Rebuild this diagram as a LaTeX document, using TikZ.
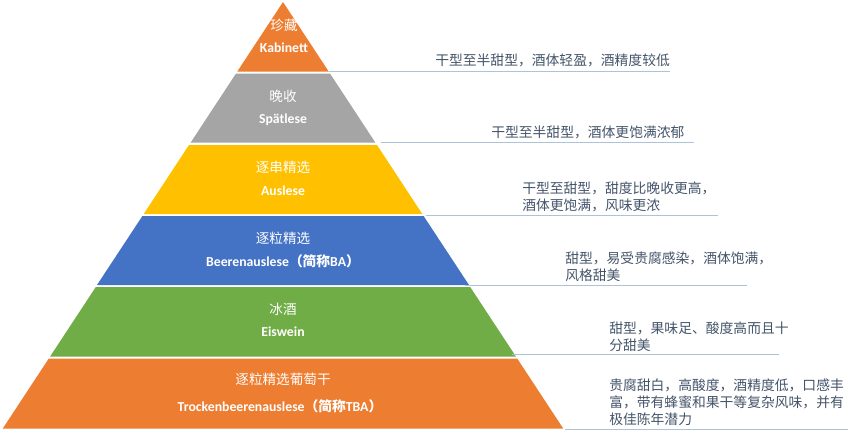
\documentclass[tikz,border=0pt]{standalone}
\usepackage{fontspec}
\setmainfont{Carlito}
\newfontfamily\cjk{Noto Sans CJK SC}
\usetikzlibrary{positioning}
\definecolor{wineorange}{HTML}{ED7D31}
\definecolor{winegrey}{HTML}{A5A5A5}
\definecolor{wineyellow}{HTML}{FFC000}
\definecolor{wineblue}{HTML}{4472C4}
\definecolor{winegreen}{HTML}{70AD47}
\definecolor{leadcol}{HTML}{ADC3D9}
\definecolor{notecol}{HTML}{44546A}
\tikzset{
  zh/.style={text=white, font=\cjk\fontsize{10.2}{12}\selectfont, inner sep=0pt},
  en/.style={text=white, font=\bfseries\fontsize{10.3}{12}\selectfont, inner sep=0pt},
  note/.style={text=notecol, font=\cjk\fontsize{10.35}{12.75}\selectfont, align=left, anchor=west, inner sep=0pt},
  lead/.style={draw=leadcol, line width=0.75pt},
}
\begin{document}
\begin{tikzpicture}[x=0.75pt,y=-0.75pt]
\useasboundingbox (0,0) rectangle (858,436);
% bands
\fill[wineorange] (283,2) -- (328.7,71.5) coordinate (c1) -- (237.3,71.5) -- cycle;
\fill[winegrey] (236,73.5) -- (330,73.5) -- (375.3,142.5) coordinate (c2) -- (190.7,142.5) -- cycle;
\fill[wineyellow] (189,145) -- (377,145) -- (422.3,214) coordinate (c3) -- (143.7,214) -- cycle;
\fill[wineblue] (142.4,216) -- (423.6,216) -- (469,285) coordinate (c4) -- (97,285) -- cycle;
\fill[winegreen] (95.8,287) -- (470.2,287) -- (515.9,356.5) coordinate (c5) -- (50.1,356.5) -- cycle;
\fill[wineorange] (48.8,358.5) -- (517.2,358.5) -- (563.2,428.5) coordinate (c6) -- (2.8,428.5) -- cycle;
% band labels
\node[zh] (z1) at (284,25) {珍藏};
\node[en] (e1) at (284,48) {Kabinett};
\node[zh] (z2) at (283,96.5) {晚收};
\node[en] (e2) at (283,120) {Spätlese};
\node[zh] (z3) at (283,167.5) {逐串精选};
\node[en] (e3) at (283,190.5) {Auslese};
\node[zh] (z4) at (283,238) {逐粒精选};
\node[en] (e4) at (283,261) {Beerenauslese{\cjk （简称}BA{\cjk ）}};
\node[zh] (z5) at (283,309) {冰酒};
\node[en] (e5) at (283,332) {Eiswein};
\node[zh] (z6) at (283,379) {逐粒精选葡萄干};
\node[en] (e6) at (280,406.5) {Trockenbeerenauslese{\cjk （简称}TBA{\cjk ）}};
% notes
\node[note] (n1) at (435,60.5) {干型至半甜型，酒体轻盈，酒精度较低};
\node[note] (n2) at (491,132) {干型至半甜型，酒体更饱满浓郁};
\node[note] (n3) at (522,197) {干型至甜型，甜度比晚收更高，\\酒体更饱满，风味更浓};
\node[note] (n4) at (565,266.5) {甜型，易受贵腐感染，酒体饱满，\\风格甜美};
\node[note] (n5) at (609,337) {甜型，果味足、酸度高而且十\\分甜美};
\node[note] (n6) at (609,402.5) {贵腐甜白，高酸度，酒精度低，口感丰\\富，带有蜂蜜和果干等复杂风味，并有\\极佳陈年潜力};
% leaders
\coordinate (l1) at (670,71);
\coordinate (l2) at (694,142.5);
\coordinate (l3) at (718,215.5);
\coordinate (l4) at (747,285.5);
\coordinate (l5) at (779,354);
\coordinate (l6) at (848,429);
\draw[lead] (c1 |- l1) -- (l1);
\draw[lead] ([xshift=4pt]c2) -- (l2);
\draw[lead] ([xshift=3pt]c3 |- l3) -- (l3);
\draw[lead] ([xshift=-3pt]c4 |- l4) -- (l4);
\draw[lead] ([xshift=-3pt]c5 |- l5) -- (l5);
\draw[lead] ([xshift=1pt]c6 |- l6) -- (l6);
\end{tikzpicture}
\end{document}
